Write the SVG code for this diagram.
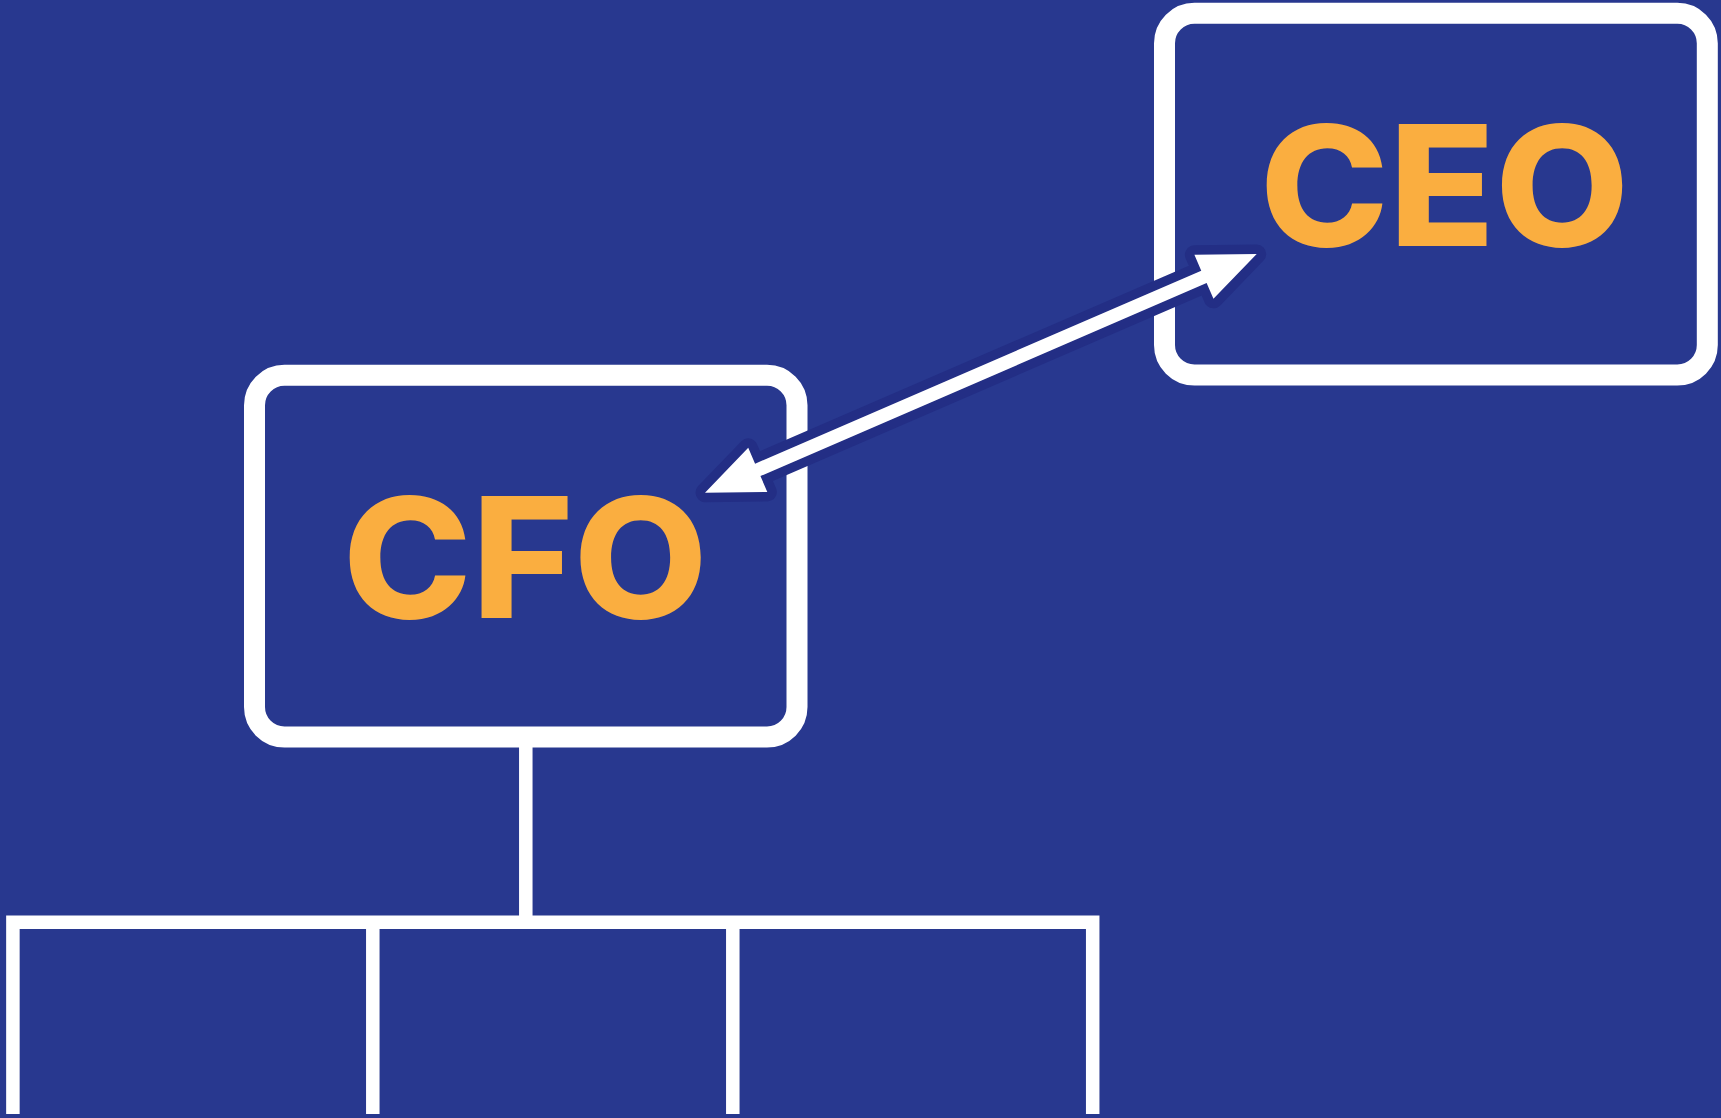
<svg xmlns="http://www.w3.org/2000/svg" width="1721" height="1118" viewBox="0 0 1721 1118">
<style>
.box{fill:none;stroke:#ffffff;stroke-width:21}
.lbl{font-family:Inter,"Liberation Sans",Arial,sans-serif;font-weight:850;font-size:167px;fill:#FAAE40;text-anchor:middle}
.tree{fill:none;stroke:#ffffff;stroke-width:13.5;stroke-linejoin:miter;stroke-linecap:butt}
.halo{fill:#232E85;stroke:#232E85;stroke-width:19;stroke-linejoin:round}
.arrow{fill:#ffffff}
</style>
<rect x="0" y="0" width="1721" height="1118" fill="#28388F"/>
<g id="ceo">
<rect class="box" x="1164.5" y="13.3" width="542.8" height="361.7" rx="30" ry="30"/>
<text class="lbl" x="0" y="245.7" transform="translate(1444.5 0) scale(1.04 1)">CEO</text>
</g>
<g id="cfo">
<rect class="box" x="254.5" y="375.3" width="542.5" height="361.7" rx="30" ry="30"/>
<text class="lbl" x="0" y="617.7" transform="translate(525.2 0) scale(1.04 1)">CFO</text>
</g>
<g id="connectors">
<path class="tree" d="M525.8,747 V922.2"/>
<path class="tree" d="M12.9,1114 V922.2 H1092.7 V1114"/>
<path class="tree" d="M372.8,922.2 V1114"/>
<path class="tree" d="M732.8,922.2 V1114"/>
<polygon class="halo" points="705,492.7 748.24,447.84 755.09,463.68 1201.25,270.64 1194.4,254.8 1256.7,254 1213.46,298.86 1206.61,283.03 760.45,476.07 767.3,491.9"/>
<polygon class="arrow" points="705,492.7 748.24,447.84 755.09,463.68 1201.25,270.64 1194.4,254.8 1256.7,254 1213.46,298.86 1206.61,283.03 760.45,476.07 767.3,491.9"/>
</g>
</svg>
